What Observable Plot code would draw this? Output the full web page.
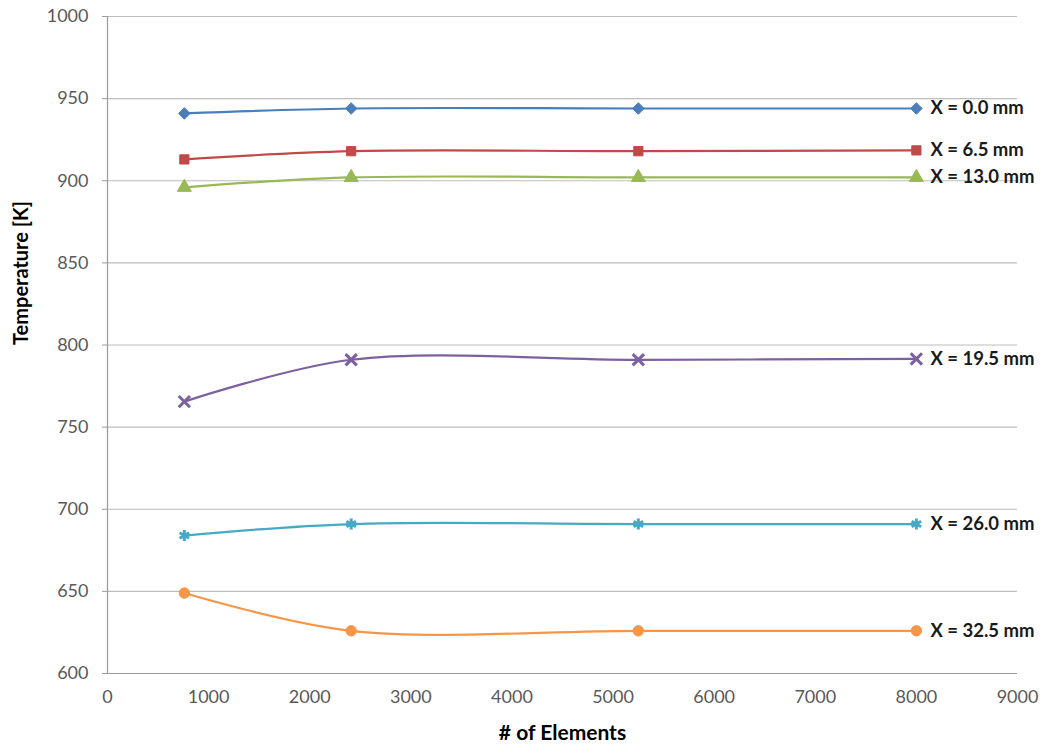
<!DOCTYPE html>
<html>
<head>
<meta charset="utf-8">
<script src="https://cdn.jsdelivr.net/npm/d3@7"></script>
<script src="https://cdn.jsdelivr.net/npm/@observablehq/plot@0.6"></script>
<style>
  html, body { margin: 0; padding: 0; background: #fff; }
  #chart svg { display: block; }
</style>
</head>
<body>
<div id="chart"></div>
<script>
// Data
const elements = [760, 2410, 5250, 8000];
const seriesNames = ["X = 0.0 mm", "X = 6.5 mm", "X = 13.0 mm", "X = 19.5 mm", "X = 26.0 mm", "X = 32.5 mm"];
const t00 = [941, 944, 944, 944];
const t65 = [913, 918, 918, 918.5];
const t130 = [896, 902, 902, 902];
const t195 = [765.5, 791, 791, 791.5];
const t260 = [684, 691, 691, 691];
const t325 = [649, 626, 626, 626];
const seriesValues = [t00, t65, t130, t195, t260, t325];
const seriesColors = ["#4a7ebb", "#be4b48", "#98b954", "#7d60a0", "#46aac5", "#f79646"];
const seriesSymbols = ["diamond2", "square", "triangle", "times", "asterisk", "circle"];
const yTicks = [600, 650, 700, 750, 800, 850, 900, 950, 1000];
const xTicks = [0, 1000, 2000, 3000, 4000, 5000, 6000, 7000, 8000, 9000];

const rows = [];
seriesNames.forEach((name, i) => {
  seriesValues[i].forEach((v, j) => rows.push({series: name, n: elements[j], t: v}));
});
const lastRows = seriesNames.map((name, i) => ({series: name, n: elements[elements.length - 1], t: seriesValues[i][elements.length - 1]}));

const marks = [
  Plot.ruleY(yTicks.filter(d => d > 600), {stroke: "#bdbdbd", strokeWidth: 1.2}),
  Plot.ruleX([0], {stroke: "#9a9a9a", strokeWidth: 1.2}),
  Plot.ruleY([600], {stroke: "#9a9a9a", strokeWidth: 1.2}),
  Plot.axisY({ticks: yTicks, tickFormat: d => String(d), tickSize: 5, tickPadding: 14, label: null, stroke: "#9a9a9a", color: "#595959", fontSize: 18}),
  Plot.axisX({ticks: xTicks, tickFormat: d => String(d), tickSize: 0, tickPadding: 17, label: null, color: "#595959", fontSize: 18})
];

seriesNames.forEach((name, i) => {
  const data = rows.filter(d => d.series === name);
  const isLine = seriesSymbols[i] === "times" || seriesSymbols[i] === "asterisk";
  marks.push(Plot.line(data, {x: "n", y: "t", stroke: seriesColors[i], strokeWidth: 2.2, curve: "catmull-rom"}));
  marks.push(Plot.dot(data, {
    x: "n", y: "t", symbol: () => seriesSymbols[i],
    fill: isLine ? "none" : seriesColors[i],
    stroke: seriesColors[i],
    strokeWidth: isLine ? 3 : 1,
    r: 5.2
  }));
});

marks.push(Plot.text(lastRows, {x: "n", y: "t", text: "series", dx: 14, textAnchor: "start", fontWeight: "bold", fontSize: 18.5, fill: "#1a1a1a"}));
marks.push(Plot.text(["Temperature [K]"], {frameAnchor: "left", dx: -86, rotate: -90, fontWeight: "bold", fontSize: 20, fill: "#000"}));
marks.push(Plot.text(["# of Elements"], {frameAnchor: "bottom", dy: 66, fontWeight: "bold", fontSize: 21, fill: "#000"}));

const chart = Plot.plot({
  width: 1048,
  height: 753,
  marginLeft: 107,
  marginRight: 31,
  marginTop: 16,
  marginBottom: 80,
  style: {fontFamily: "Lato, 'Open Sans', sans-serif", background: "#fff"},
  x: {domain: [0, 9000], type: "linear"},
  y: {domain: [600, 1000], type: "linear"},
  symbol: {type: "identity"},
  marks
});
document.getElementById("chart").appendChild(chart);
</script>
</body>
</html>
